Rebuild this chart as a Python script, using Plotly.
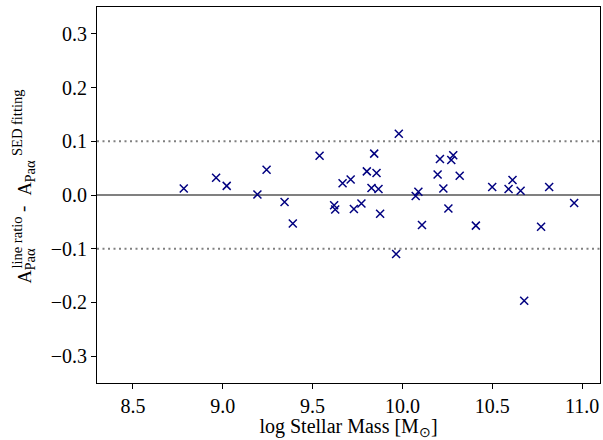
import plotly.graph_objects as go

# ---- data ----
log_mass = [8.783, 8.963, 9.022, 9.193, 9.244, 9.344, 9.390, 9.539, 9.620, 9.626,
            9.667, 9.712, 9.730, 9.772, 9.802, 9.843, 9.856, 9.828, 9.867, 9.876,
            9.980, 9.965, 10.074, 10.089, 10.109, 10.196, 10.209, 10.228, 10.256, 10.272,
            10.283, 10.319, 10.409, 10.500, 10.591, 10.613, 10.658, 10.678, 10.772, 10.817,
            10.956]
delta_A = [0.012, 0.032, 0.017, 0.001, 0.047, -0.013, -0.053, 0.073, -0.019, -0.027,
           0.022, 0.029, -0.026, -0.016, 0.044, 0.077, 0.041, 0.013, 0.011, -0.035,
           0.114, -0.110, -0.002, 0.006, -0.056, 0.038, 0.067, 0.012, -0.025, 0.065,
           0.074, 0.036, -0.057, 0.015, 0.011, 0.028, 0.008, -0.197, -0.059, 0.015,
           -0.015]

x_ticks = [8.5, 9.0, 9.5, 10.0, 10.5, 11.0]
x_ticktext = [f"{v:.1f}" for v in x_ticks]
y_ticks = [-0.3, -0.2, -0.1, 0.0, 0.1, 0.2, 0.3]
y_ticktext = [("\u2212" if v < 0 else "") + f"{abs(v):.1f}" for v in y_ticks]
ref_level = 0.0
band_levels = [-0.1, 0.1]

SERIF = "Liberation Serif, Times New Roman, serif"

W, H = 603, 440
L, R, T, B = 97, 3, 7, 57
PW, PH = W - L - R, H - T - B

fig = go.Figure()
fig.add_trace(go.Scatter(
    x=log_mass, y=delta_A, mode="markers",
    marker=dict(symbol="x-thin", size=8, color="#000080",
                line=dict(color="#000080", width=1.5)),
    showlegend=False, hoverinfo="skip"))

shapes = [dict(type="line", xref="paper", x0=0, x1=1, yref="y", y0=ref_level, y1=ref_level,
               line=dict(color="#808080", width=2), layer="below")]
for lv in band_levels:
    shapes.append(dict(type="line", xref="paper", x0=0, x1=1, yref="y", y0=lv, y1=lv,
                       line=dict(color="#808080", width=2, dash="2px,3.5px"), layer="below"))


def px_to_paper(px, py):
    return (px - L) / PW, (H - B - py) / PH


ann = []
parts = [
    ("A", 18.5, 24.5, 277),
    ("Pa\u03b1", 14.5, 29.5, 259),
    ("line ratio", 14.5, 16.5, 243),
    ("-", 19, 22.0, 209),
    ("A", 18.5, 24.5, 189),
    ("Pa\u03b1", 14.5, 29.5, 171),
    ("SED fitting", 14.5, 16.5, 123.5),
]
for txt, fs, px, py in parts:
    xp, yp = px_to_paper(px, py)
    ann.append(dict(text=txt, x=xp, y=yp, xref="paper", yref="paper",
                    xanchor="center", yanchor="middle", textangle=-90,
                    showarrow=False, font=dict(family=SERIF, size=fs, color="black")))

fig.update_layout(
    width=W, height=H,
    margin=dict(l=L, r=R, t=T, b=B, autoexpand=False),
    paper_bgcolor="white", plot_bgcolor="white",
    font=dict(family=SERIF, size=20, color="black"),
    shapes=shapes, annotations=ann,
    xaxis=dict(range=[8.3, 11.1], tickvals=x_ticks, ticktext=x_ticktext,
               showgrid=False, zeroline=False, showline=True, linecolor="black",
               linewidth=1, mirror=True, ticks="outside", ticklen=5, tickwidth=1,
               tickcolor="black", tickfont=dict(family=SERIF, size=20),
               title=dict(text="log Stellar Mass [M<sub>\u2299</sub>]", standoff=2,
                          font=dict(family=SERIF, size=20))),
    yaxis=dict(range=[-0.35, 0.35], tickvals=y_ticks, ticktext=y_ticktext,
               showgrid=False, zeroline=False, showline=True, linecolor="black",
               linewidth=1, mirror=True, ticks="outside", ticklen=5, tickwidth=1,
               tickcolor="black", tickfont=dict(family=SERIF, size=20)),
)

fig.write_html("out.html", config={"displayModeBar": False},
               post_script="document.body.style.margin='0';")
